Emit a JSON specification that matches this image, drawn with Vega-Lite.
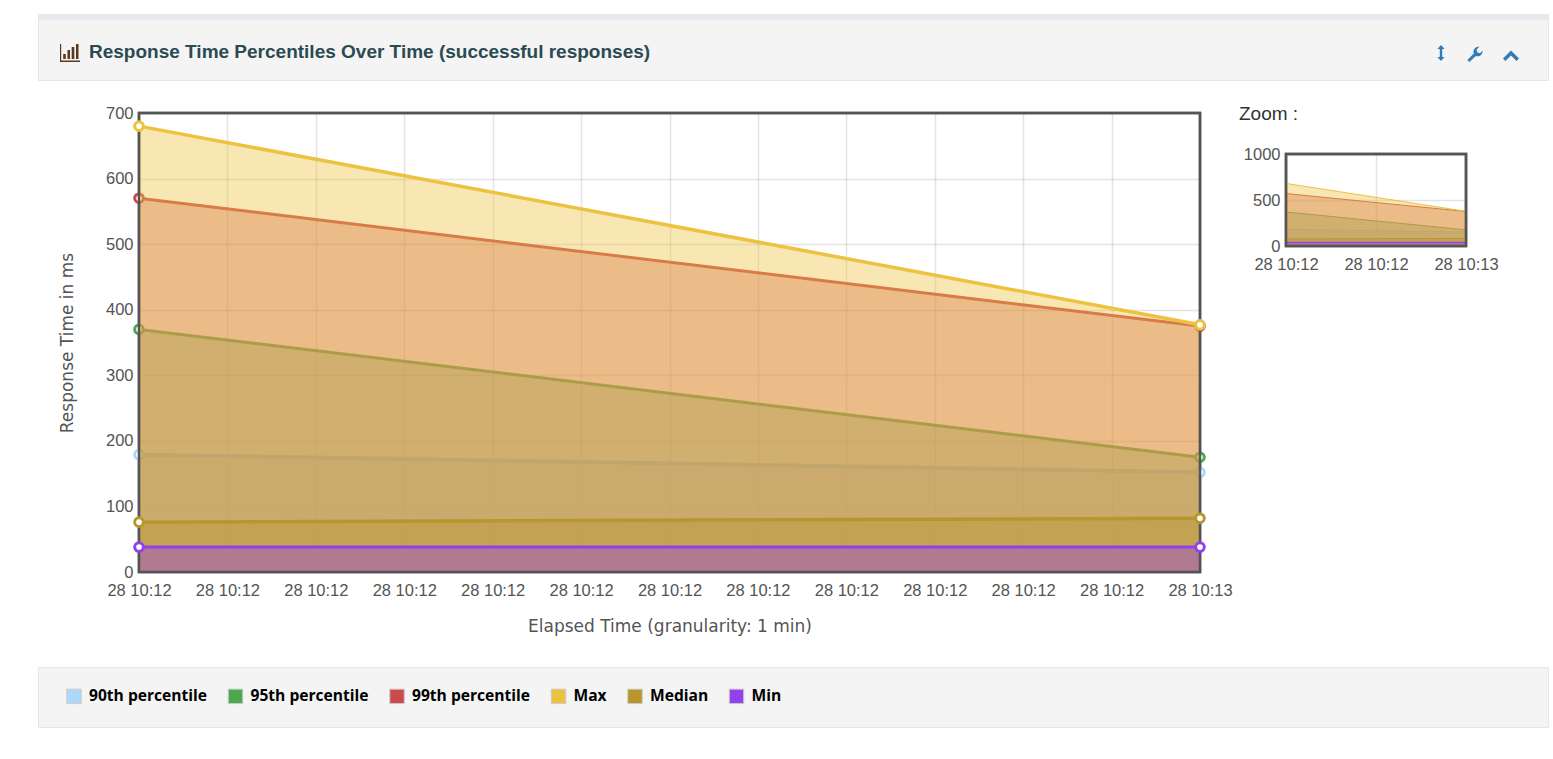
{
"$schema":"https://vega.github.io/schema/vega-lite/v6.json",
"background":"#ffffff",
"padding":{"left":34,"top":13,"right":0,"bottom":0},
"datasets":{
"rt":[
{"time":"2021-01-28T10:12:00Z","series":"90th percentile","value":179},
{"time":"2021-01-28T10:13:00Z","series":"90th percentile","value":152},
{"time":"2021-01-28T10:12:00Z","series":"95th percentile","value":370},
{"time":"2021-01-28T10:13:00Z","series":"95th percentile","value":175},
{"time":"2021-01-28T10:12:00Z","series":"99th percentile","value":570},
{"time":"2021-01-28T10:13:00Z","series":"99th percentile","value":375},
{"time":"2021-01-28T10:12:00Z","series":"Max","value":680},
{"time":"2021-01-28T10:13:00Z","series":"Max","value":377},
{"time":"2021-01-28T10:12:00Z","series":"Median","value":76},
{"time":"2021-01-28T10:13:00Z","series":"Median","value":82},
{"time":"2021-01-28T10:12:00Z","series":"Min","value":38},
{"time":"2021-01-28T10:13:00Z","series":"Min","value":38}
]},
"config":{"font":"Liberation Sans","view":{"stroke":null}},
"spacing":22,
"resolve":{"scale":{"color":"independent"},"legend":{"color":"independent"}},
"vconcat":[
{"width":1510,"height":66,"view":{"fill":"#f4f4f4","stroke":"#e7e7e7"},
"layer":[
{"data":{"values":[{"band":"top"}]},"mark":{"type":"rule","color":"#e6e9ed","strokeWidth":6},"encoding":{"x":{"value":0},"x2":{"value":1510},"y":{"value":3}}},
{"data":{"values":[{"label":"Response Time Percentiles Over Time (successful responses)"}]},"mark":{"type":"text","align":"left","baseline":"middle","font":"Liberation Sans","fontSize":19,"fontWeight":"bold","color":"#2b4a52"},"encoding":{"text":{"field":"label"},"x":{"value":51},"y":{"value":38}}},
{"data":{"values":[{"icon":"chart"}]},"mark":{"type":"point","filled":true,"opacity":1,"color":"#5a3a1e","size":400,"shape":"M-1,-0.8 H-0.88 V0.86 H1 V1 H-1 Z M-0.68,0.7 V0.2 H-0.42 V0.7 Z M-0.25,0.7 V-0.2 H0 V0.7 Z M0.17,0.7 V-0.5 H0.43 V0.7 Z M0.6,0.7 V-0.8 H0.85 V0.7 Z"},"encoding":{"x":{"value":32},"y":{"value":38}}},
{"data":{"values":[{"icon":"resize"}]},"mark":{"type":"point","filled":true,"opacity":1,"color":"#337ab7","size":256,"shape":"M0,-1 L0.45,-0.5 H0.15 V0.5 H0.45 L0,1 L-0.45,0.5 H-0.15 V-0.5 H-0.45 Z"},"encoding":{"x":{"value":1403},"y":{"value":39}}},
{"data":{"values":[{"icon":"wrench"}]},"mark":{"type":"point","filled":true,"opacity":1,"color":"#337ab7","size":256,"shape":"M-0.95,0.75 L-0.15,-0.05 C-0.3,-0.5 0,-0.95 0.55,-0.9 L0.2,-0.55 L0.3,-0.2 L0.65,-0.1 L0.95,-0.45 C1,0.05 0.55,0.4 0.1,0.25 L-0.7,1 Z"},"encoding":{"x":{"value":1437},"y":{"value":40}}},
{"data":{"values":[{"icon":"collapse"}]},"mark":{"type":"point","filled":true,"opacity":1,"color":"#337ab7","size":256,"shape":"M-1,0.45 L0,-0.55 L1,0.45 L0.7,0.75 L0,0.05 L-0.7,0.75 Z"},"encoding":{"x":{"value":1473},"y":{"value":41}}}
]},
{"align":"none","spacing":5,"hconcat":[
{"width":14,"height":531,"data":{"values":[{"gap":1}]},"mark":{"type":"point","opacity":0},"encoding":{}},
{"width":1061,"height":459,
"view":{"stroke":"#545454","strokeWidth":2.5},
"data":{"name":"rt"},
"encoding":{
"x":{"field":"time","type":"temporal","scale":{"type":"utc"},"axis":{"title":"Elapsed Time (granularity: 1 min)","format":"%d %H:%M","values":["2021-01-28T10:12:00Z","2021-01-28T10:12:05Z","2021-01-28T10:12:10Z","2021-01-28T10:12:15Z","2021-01-28T10:12:20Z","2021-01-28T10:12:25Z","2021-01-28T10:12:30Z","2021-01-28T10:12:35Z","2021-01-28T10:12:40Z","2021-01-28T10:12:45Z","2021-01-28T10:12:50Z","2021-01-28T10:12:55Z","2021-01-28T10:13:00Z"],"labelOverlap":false,"labelFlush":false,"domain":false,"ticks":false,"grid":true,"gridColor":"#545454","gridOpacity":0.16,"gridWidth":1.5,"labelFontSize":16.5,"labelColor":"#545454","labelPadding":10,"titleFont":"DejaVu Sans","titleFontSize":17,"titleFontWeight":"normal","titleColor":"#545454","titlePadding":20}},
"y":{"field":"value","type":"quantitative","scale":{"domain":[0,700],"nice":false},"axis":{"title":"Response Time in ms","values":[0,100,200,300,400,500,600,700],"domain":false,"ticks":false,"grid":true,"gridColor":"#545454","gridOpacity":0.16,"gridWidth":1.5,"labelFontSize":16.5,"labelColor":"#545454","labelPadding":6,"titleFont":"DejaVu Sans","titleFontSize":17,"titleFontWeight":"normal","titleColor":"#545454","titlePadding":29}},
"color":{"field":"series","type":"nominal","legend":null,"scale":{"domain":["90th percentile","95th percentile","99th percentile","Max","Median","Min"],"range":["#afd8f8","#4da74d","#cb4b4b","#edc240","#b8962e","#9440ed"]}}
},
"layer":[
{"transform":[{"filter":"datum.series==='90th percentile'"}],"mark":{"type":"area","fillOpacity":0.4}},
{"transform":[{"filter":"datum.series==='90th percentile'"}],"mark":{"type":"line","strokeWidth":4}},
{"transform":[{"filter":"datum.series==='90th percentile'"}],"mark":{"type":"point","filled":false,"fill":"white","size":75,"strokeWidth":3,"opacity":1}},
{"transform":[{"filter":"datum.series==='95th percentile'"}],"mark":{"type":"area","fillOpacity":0.4}},
{"transform":[{"filter":"datum.series==='95th percentile'"}],"mark":{"type":"line","strokeWidth":3}},
{"transform":[{"filter":"datum.series==='95th percentile'"}],"mark":{"type":"point","filled":false,"fill":"white","size":75,"strokeWidth":3,"opacity":1}},
{"transform":[{"filter":"datum.series==='99th percentile'"}],"mark":{"type":"area","fillOpacity":0.4}},
{"transform":[{"filter":"datum.series==='99th percentile'"}],"mark":{"type":"line","strokeWidth":3}},
{"transform":[{"filter":"datum.series==='99th percentile'"}],"mark":{"type":"point","filled":false,"fill":"white","size":75,"strokeWidth":3,"opacity":1}},
{"transform":[{"filter":"datum.series==='Max'"}],"mark":{"type":"area","fillOpacity":0.4}},
{"transform":[{"filter":"datum.series==='Max'"}],"mark":{"type":"line","strokeWidth":3.5}},
{"transform":[{"filter":"datum.series==='Median'"}],"mark":{"type":"area","fillOpacity":0.4}},
{"transform":[{"filter":"datum.series==='Median'"}],"mark":{"type":"line","strokeWidth":3.5}},
{"transform":[{"filter":"datum.series==='Min'"}],"mark":{"type":"area","fillOpacity":0.4}},
{"transform":[{"filter":"datum.series==='Min'"}],"mark":{"type":"line","strokeWidth":3}},
{"data":{"values":[{"frame":"plot"}]},"mark":{"type":"rect","strokeWidth":2.5,"fillOpacity":0},"encoding":{"x":{"value":0},"x2":{"value":1061},"y":{"value":0},"y2":{"value":459},"color":null,"stroke":{"value":"#545454"},"fill":{"value":"#ffffff"}}},
{"transform":[{"filter":"datum.series==='Max'"}],"mark":{"type":"point","filled":false,"fill":"white","size":75,"strokeWidth":3,"opacity":1}},
{"transform":[{"filter":"datum.series==='Median'"}],"mark":{"type":"point","filled":false,"fill":"white","size":75,"strokeWidth":3,"opacity":1}},
{"transform":[{"filter":"datum.series==='Min'"}],"mark":{"type":"point","filled":false,"fill":"white","size":75,"strokeWidth":3,"opacity":1}}
]},
{"spacing":0,"align":"none","vconcat":[
{"width":180,"height":31,"data":{"values":[{"label":"Zoom :"}]},"mark":{"type":"text","align":"left","baseline":"middle","fontSize":19,"color":"#333333"},"encoding":{"text":{"field":"label"},"x":{"value":-47},"y":{"value":1}}},
{"width":180,"height":92,
"view":{"stroke":"#545454","strokeWidth":2.5},
"data":{"name":"rt"},
"encoding":{
"x":{"field":"time","type":"temporal","scale":{"type":"utc"},"axis":{"title":null,"format":"%d %H:%M","values":["2021-01-28T10:12:00Z","2021-01-28T10:12:30Z","2021-01-28T10:13:00Z"],"labelOverlap":false,"labelFlush":false,"domain":false,"ticks":false,"grid":true,"gridColor":"#545454","gridOpacity":0.16,"gridWidth":1.5,"labelFontSize":16.5,"labelColor":"#545454","labelPadding":10}},
"y":{"field":"value","type":"quantitative","scale":{"domain":[0,1000],"nice":false},"axis":{"title":null,"format":"d","values":[0,500,1000],"domain":false,"ticks":false,"grid":true,"gridColor":"#545454","gridOpacity":0.16,"gridWidth":1.5,"labelFontSize":16.5,"labelColor":"#545454","labelPadding":6}},
"color":{"field":"series","type":"nominal","legend":null,"scale":{"domain":["90th percentile","95th percentile","99th percentile","Max","Median","Min"],"range":["#afd8f8","#4da74d","#cb4b4b","#edc240","#b8962e","#9440ed"]}}
},
"layer":[
{"transform":[{"filter":"datum.series==='90th percentile'"}],"mark":{"type":"area","fillOpacity":0.4}},
{"transform":[{"filter":"datum.series==='90th percentile'"}],"mark":{"type":"line","strokeWidth":1}},
{"transform":[{"filter":"datum.series==='95th percentile'"}],"mark":{"type":"area","fillOpacity":0.4}},
{"transform":[{"filter":"datum.series==='95th percentile'"}],"mark":{"type":"line","strokeWidth":1}},
{"transform":[{"filter":"datum.series==='99th percentile'"}],"mark":{"type":"area","fillOpacity":0.4}},
{"transform":[{"filter":"datum.series==='99th percentile'"}],"mark":{"type":"line","strokeWidth":1}},
{"transform":[{"filter":"datum.series==='Max'"}],"mark":{"type":"area","fillOpacity":0.4}},
{"transform":[{"filter":"datum.series==='Max'"}],"mark":{"type":"line","strokeWidth":1}},
{"transform":[{"filter":"datum.series==='Median'"}],"mark":{"type":"area","fillOpacity":0.4}},
{"transform":[{"filter":"datum.series==='Median'"}],"mark":{"type":"line","strokeWidth":1}},
{"transform":[{"filter":"datum.series==='Min'"}],"mark":{"type":"area","fillOpacity":0.4}},
{"transform":[{"filter":"datum.series==='Min'"}],"mark":{"type":"line","strokeWidth":1.5}},
{"data":{"values":[{"frame":"plot"}]},"mark":{"type":"rect","strokeWidth":2.5,"fillOpacity":0},"encoding":{"x":{"value":0},"x2":{"value":180},"y":{"value":0},"y2":{"value":92},"color":null,"stroke":{"value":"#545454"},"fill":{"value":"#ffffff"}}}
]}
]}
]},
{"width":1510,"height":60,"view":{"fill":"#f4f4f4","stroke":"#e7e7e7"},
"data":{"name":"rt"},
"mark":{"type":"point","shape":"square","filled":true,"opacity":1,"size":0},
"encoding":{"color":{"field":"series","type":"nominal","scale":{"domain":["90th percentile","95th percentile","99th percentile","Max","Median","Min"],"range":["#afd8f8","#4da74d","#cb4b4b","#edc240","#b8962e","#9440ed"]},"legend":{"orient":"none","legendX":28,"legendY":21,"direction":"horizontal","columns":6,"title":null,"symbolType":"square","symbolSize":210,"symbolOpacity":1,"symbolStrokeWidth":1,"labelFont":"Open Sans","labelFontSize":15.6,"labelFontWeight":"bold","labelColor":"#000000","labelOffset":7,"columnPadding":17.5,"gridAlign":"each","labelLimit":300,"encode":{"symbols":{"update":{"stroke":{"value":"#cccccc"},"strokeWidth":{"value":1}}}}}}}}
]
}
